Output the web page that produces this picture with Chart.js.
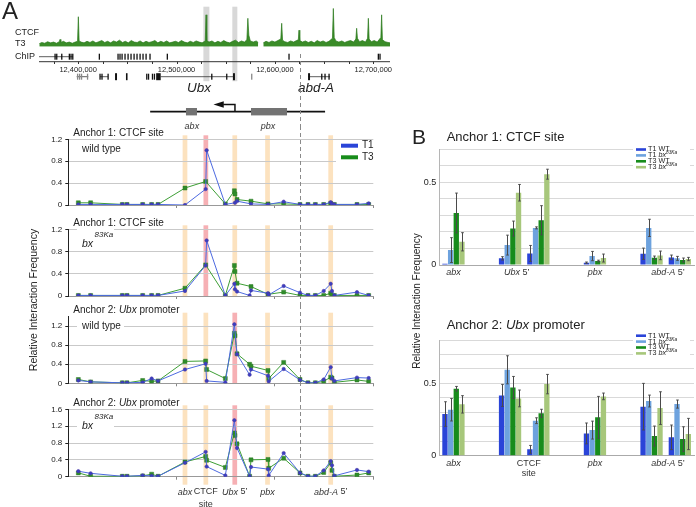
<!DOCTYPE html>
<html><head><meta charset="utf-8">
<script src="https://cdn.jsdelivr.net/npm/chart.js@4.4.0/dist/chart.umd.min.js"></script>
<style>
html,body{margin:0;padding:0;background:#fff;}
body{width:696px;height:507px;position:relative;overflow:hidden;font-family:"Liberation Sans",Arial,sans-serif;color:#222;}
canvas{position:absolute;}
.t{position:absolute;white-space:nowrap;line-height:1;}
.rot{position:absolute;width:220px;height:12px;line-height:12px;text-align:center;white-space:nowrap;transform:rotate(-90deg);}
</style></head><body>
<canvas id="g" width="400" height="134" style="left:0;top:0"></canvas>
<canvas id="c1" width="400" height="92" style="left:0;top:126px"></canvas>
<canvas id="c2" width="400" height="87" style="left:0;top:218px"></canvas>
<canvas id="c3" width="400" height="93" style="left:0;top:305px"></canvas>
<canvas id="c4" width="400" height="109" style="left:0;top:398px"></canvas>
<canvas id="b1" width="296" height="140" style="left:400px;top:140px"></canvas>
<canvas id="b2" width="296" height="152" style="left:400px;top:330px"></canvas>
<div class="t" style="left:2px;top:-1px;font-size:24px">A</div>
<div class="t" style="left:412px;top:125.5px;font-size:21px">B</div>
<div class="t" style="left:446.7px;top:130.3px;font-size:13px">Anchor 1: CTCF site</div>
<div class="t" style="left:446.7px;top:317.6px;font-size:13px">Anchor 2: <i>Ubx</i> promoter</div>
<div class="rot" style="left:-77px;top:294px;font-size:10.5px">Relative Interaction Frequency</div>
<div class="rot" style="left:307px;top:295px;font-size:10px">Relative Interaction Frequency</div>
<script>
// ---------------- DATA ----------------
// ChIP track (CTCF, T3), genomic position in kb, signal in arbitrary units (null = gap)
const chipPos = [12360.5,12363,12366,12369,12372,12375,12378,12380.8,12381.6,12382.4,12385,12388,12391,12394,12397,12399.4,12400.2,12401,12403,12406,12409,12412,12415,12418,12421,12424,12427,12430,12433,12436,12439,12442,12445,12448,12451,12454,12457,12460,12463,12466,12469,12472,12475,12478,12481,12484,12487,12490,12493,12496,12499,12502,12505,12508,12511,12514,12517,12520,12523,12526,12529.2,12530,12530.8,12533,12536,12539,12542,12545,12548,12551,12554,12557,12560,12563,12566,12569,12571.5,12572.5,12573.5,12575,12578,12581,12583,12585.5,12588.2,12591,12594,12597,12600,12603,12606,12606.9,12607.8,12610,12613,12616,12619,12622,12623.8,12624.5,12625.3,12628,12631,12634,12637,12640,12643,12646,12649,12652,12655,12658.5,12659.4,12660.3,12662,12665,12668,12671,12674,12677,12680,12682.3,12683.1,12683.9,12686,12689,12692,12694.2,12695,12695.8,12698,12701,12704,12707.7,12708.5,12709.3,12712,12715,12717];
const chipVal = [8,11,9,13,10,12,9,13,19,11,14,10,12,9,12,14,78,15,12,10,14,11,15,10,13,16,11,14,10,15,12,17,11,14,10,16,12,11,15,10,14,11,13,16,10,14,11,15,10,12,14,11,16,12,10,14,11,15,12,10,15,83,16,12,15,10,14,11,16,12,10,14,17,11,15,12,18,74,30,15,12,15,11,null,10,14,11,15,12,16,20,61,17,13,11,15,12,16,18,43,16,12,15,11,14,10,16,12,15,11,14,22,100,24,15,12,15,11,14,16,12,20,48,22,13,16,12,22,74,20,13,16,12,24,83,18,13,11,10];
const chipLabels = ['CTCF','T3','ChIP'];
// gene annotation (kb)
const gene1Lines = [[12360.2,12394.8]];
const gene1Exons = [12376.5,12378.2,12383.3,12391,12392.7,12394.5,12421.5,12440.5,12442.5,12444.6,12447.6,12450.7,12453.7,12456.8,12459.8,12462.9,12465.9,12469,12473,12490.6,12614.3,12705.1,12706.8];
const gene2Lines = [[12398.5,12410.3],[12422.2,12430.4],[12483.9,12558.4],[12633.7,12656]];
const gene2Exons = [12422.2,12424.2,12430.4,12469.7,12471.5,12475.5,12477.5,12535.8,12551,12647.6,12650.9,12655];
const gene2GrayExons = [12399.4,12401.4,12403.4,12409.5,12576.4];
const gene2Boxes = [[12437.5,12439.5],[12448.6,12450.2],[12479.3,12483.9],[12557.4,12559.4],[12633.7,12635.7]];
const highlightKb = [[12527.3,12533.4],[12556.7,12561.8]];
const genomeTickKb = [12375,12400,12425,12450,12475,12500,12525,12550,12575,12600,12625,12650,12675,12700];
const genomeLabelKb = [12400,12500,12600,12700];
const geneNames = [{kb:12522.9,t:'Ubx'},{kb:12641.8,t:'abd-A'}];
const schemeLine = [12473.2,12651];
const schemeBoxes = [{a:12509.6,b:12520.8,t:'abx',lab:12515.6},{a:12575.7,b:12612.3,t:'pbx',lab:12593}];
const tssKb = 12559.4, arrowTipKb = 12537.6, arrowBaseKb = 12547.5;
const dashKb = 12625.5;

// 4C interaction profiles: fragment positions (kb) and relative interaction frequencies
const siteKb = [12400.2,12412.7,12444.9,12449.7,12465.6,12474.7,12481.2,12508.6,12529.6,12530.6,12549.6,12558.8,12559.4,12561.5,12574.3,12575.7,12593.0,12593.7,12608.9,12625.5,12633.6,12641.1,12649.6,12656.7,12658.0,12660.4,12683.4,12695.3];
const a1wtT1 = [0.01,0.01,0.01,0.01,0.01,0.01,0.01,0.0,0.29,1.0,0.01,null,0.04,0.07,null,0.02,0.01,null,0.06,0.01,0.01,0.01,0.01,0.05,0.02,0.01,0.01,0.03];
const a1wtT3 = [0.04,0.04,0.01,0.01,0.01,0.01,0.01,0.31,0.43,null,0.02,0.26,0.2,0.1,null,0.07,0.02,null,0.02,0.01,0.01,0.01,0.01,0.03,null,0.01,0.01,0.01];
const a1bxT1 = [0.01,0.01,0.01,0.01,0.01,0.01,0.01,0.09,0.55,1.0,0.01,0.22,0.12,0.08,0.01,0.1,0.05,0.02,0.18,0.06,0.01,0.01,0.09,0.22,0.09,0.01,0.07,0.01];
const a1bxT3 = [0.01,0.01,0.01,0.01,0.01,0.01,0.01,0.14,0.56,null,0.01,0.55,0.44,0.23,null,0.17,0.03,null,0.07,0.01,0.01,0.01,0.01,0.05,0.02,0.01,0.01,0.01];
const a2wtT1 = [0.06,0.03,0.01,0.01,0.02,0.1,0.05,0.29,0.41,0.05,0.02,1.24,null,0.61,0.18,0.29,0.16,0.04,0.3,0.07,0.01,0.01,0.08,0.34,0.1,0.05,0.12,0.11];
const a2wtT3 = [0.08,0.03,0.01,0.01,0.06,0.04,0.05,0.46,0.47,0.29,0.1,1.05,1.0,0.62,0.4,0.36,0.27,0.1,0.44,0.08,0.01,0.01,0.04,0.13,0.11,0.02,0.07,0.04];
const a2bxT1 = [0.13,0.08,0.01,0.01,0.03,0.02,0.01,0.33,0.59,0.24,0.03,1.34,null,0.68,0.01,0.23,0.18,0.03,0.56,0.09,0.01,0.01,0.15,0.37,0.27,0.02,0.16,0.12];
const a2bxT3 = [0.09,0.01,0.01,0.01,0.02,0.06,0.01,0.35,0.48,0.39,0.22,1.04,0.98,0.78,0.01,0.4,0.41,0.2,0.44,0.09,0.01,0.01,0.1,0.33,0.15,0.01,0.04,0.09];
const bandKb = [12508.6,12529.8,12559.2,12592.5,12656.7];
const bandNames = [[{t:'abx',i:1}],[{t:'CTCF'}],[{t:'Ubx',i:1},{t:' 5\u2019'}],[{t:'pbx',i:1}],[{t:'abd-A',i:1},{t:' 5\u2019'}]];
const lineAxisTicks = [12500,12600,12700];

// Panel B: grouped bars (slots; '' = spacer)
const bSlots = ['abx','','Ubx5-1','Ubx5-2','','pbx','','abdA5-1','abdA5-2'];
const b1T1wt = [0.008,null,0.04,0.07,null,0.014,null,0.068,0.046];
const b1T1wtErr = [0,null,0.01,0.048,null,0.004,null,0.034,0.014];
const b1T1bx = [0.09,null,0.12,0.224,null,0.054,null,0.224,0.04];
const b1T1bxErr = [0.075,null,0.06,0.006,null,0.028,null,0.052,0.012];
const b1T3wt = [0.314,null,0.22,0.27,null,0.024,null,0.044,0.03];
const b1T3wtErr = [0.12,null,0.045,0.088,null,0.005,null,0.01,0.012];
const b1T3bx = [0.14,null,0.436,0.548,null,0.042,null,0.058,0.036];
const b1T3bxErr = [0.055,null,0.05,0.03,null,0.024,null,0.026,0.01];
const b2T1wt = [0.288,null,0.417,0.044,null,0.154,null,0.339,0.127];
const b2T1wtErr = [0.085,null,0.076,0.027,null,0.072,null,0.161,0.085];
const b2T1bx = [0.318,null,0.594,0.242,null,0.177,null,0.378,0.357];
const b2T1bxErr = [0.078,null,0.097,0.02,null,0.062,null,0.041,0.028];
const b2T3wt = [0.463,null,0.472,0.293,null,0.265,null,0.136,0.115];
const b2T3wtErr = [0.016,null,0.076,0.028,null,0.145,null,0.069,0.085];
const b2T3bx = [0.355,null,0.396,0.495,null,0.41,null,0.329,0.15];
const b2T3bxErr = [0.06,null,0.058,0.067,null,0.023,null,0.113,0.108];
const b1Labels = [{pos:0,runs:[{t:'abx',i:1}]},{pos:2.24,runs:[{t:'Ubx',i:1},{t:' 5\u2019'}]},{pos:5,runs:[{t:'pbx',i:1}]},{pos:7.58,runs:[{t:'abd-A',i:1},{t:' 5\u2019'}]}];
const b2Labels = [{pos:0,runs:[{t:'abx',i:1}]},{pos:2.66,runs:[{t:'CTCF'}],runs2:[{t:'site'}]},{pos:5,runs:[{t:'pbx',i:1}]},{pos:7.58,runs:[{t:'abd-A',i:1},{t:' 5\u2019'}]}];
const bSeriesNames = ['T1 WT','T1 bx','T3 WT','T3 bx'];

// ---------------- DRAWING ----------------
const FF = '"Liberation Sans", Arial, Helvetica, sans-serif';
const N = s => s + 'px ' + FF;
const IT = s => 'italic ' + s + 'px ' + FF;
const C = {t1:'#2a44d8', t1bx:'#6da2de', t3:'#178c1b', t3bx:'#a7c77b', orange:'#fce2bf', pink:'#f6b0b4'};

function runsWidth(ctx, runs, size){ let w=0; for(const r of runs){ ctx.font = r.i?IT(r.s||size):N(r.s||size); w += ctx.measureText(r.t).width + (r.dx||0);} return w; }
function drawRuns(ctx, x, y, runs, size, align, color){
  const w = runsWidth(ctx, runs, size);
  let cx = align==='center' ? x-w/2 : (align==='right' ? x-w : x);
  ctx.textAlign='left'; ctx.textBaseline='middle';
  for(const r of runs){ ctx.font = r.i?IT(r.s||size):N(r.s||size); ctx.fillStyle = r.c||color||'#222'; ctx.fillText(r.t, cx, y+(r.dy||0)); cx += ctx.measureText(r.t).width + (r.dx||0); }
}

Chart.defaults.font.family = FF;

// Genome track
const genomePlugin = {
  id:'genome',
  beforeDatasetsDraw(chart){
    const {ctx, scales:{x}} = chart;
    ctx.save(); ctx.fillStyle='#d8d8d8';
    for(const [a,b] of highlightKb){ const xa=x.getPixelForValue(a), xb=x.getPixelForValue(b); ctx.fillRect(xa,6.7,xb-xa,74.5); }
    ctx.restore();
  },
  afterDatasetsDraw(chart){
    const {ctx, scales:{x}} = chart; const P = v => x.getPixelForValue(v);
    ctx.save();
    chipLabels.forEach((t,i)=>{ ctx.font=N(9); ctx.fillStyle='#222'; ctx.textAlign='left'; ctx.textBaseline='middle'; ctx.fillText(t, 15, [32.3,44,56.7][i]); });
    ctx.strokeStyle='#333'; ctx.lineWidth=0.8;
    for(const [a,b] of gene1Lines){ ctx.beginPath(); ctx.moveTo(P(a),56.7); ctx.lineTo(P(b),56.7); ctx.stroke(); }
    ctx.fillStyle='#111';
    for(const e of gene1Exons){ ctx.fillRect(P(e)-0.6,53.7,1.3,6); }
    ctx.strokeStyle='#333'; ctx.lineWidth=1;
    ctx.beginPath(); ctx.moveTo(chart.chartArea.left,61.7); ctx.lineTo(chart.chartArea.right,61.7); ctx.stroke();
    for(const t of genomeTickKb){ ctx.beginPath(); ctx.moveTo(Math.round(P(t))+0.5,61.7); ctx.lineTo(Math.round(P(t))+0.5,64); ctx.stroke(); }
    ctx.font=N(7.5); ctx.fillStyle='#222'; ctx.textAlign='center'; ctx.textBaseline='middle';
    for(const t of genomeLabelKb){ ctx.fillText((t*1000).toLocaleString('en-US'), P(t), 70); }
    ctx.strokeStyle='#333'; ctx.lineWidth=0.8;
    for(const [a,b] of gene2Lines){ ctx.beginPath(); ctx.moveTo(P(a),76.7); ctx.lineTo(P(b),76.7); ctx.stroke(); }
    ctx.fillStyle='#111';
    for(const e of gene2Exons){ ctx.fillRect(P(e)-0.6,73.7,1.3,6); }
    for(const [a,b] of gene2Boxes){ ctx.fillRect(P(a),73.2,Math.max(1.5,P(b)-P(a)),7); }
    ctx.fillStyle='#888';
    for(const e of gene2GrayExons){ ctx.fillRect(P(e)-0.6,73.7,1.3,6); }
    ctx.fillStyle='#222'; ctx.font=IT(13.5); ctx.textAlign='center';
    for(const g of geneNames){ ctx.fillText(g.t, P(g.kb), 88.3); }
    ctx.strokeStyle='#111'; ctx.lineWidth=1.8;
    ctx.beginPath(); ctx.moveTo(P(schemeLine[0]),111.7); ctx.lineTo(P(schemeLine[1]),111.7); ctx.stroke();
    for(const b of schemeBoxes){ ctx.fillStyle='#737373'; ctx.fillRect(P(b.a),108,P(b.b)-P(b.a),7.4); ctx.fillStyle='#333'; ctx.font=IT(9); ctx.fillText(b.t, P(b.lab), 126); }
    ctx.lineWidth=1.5; ctx.strokeStyle='#111';
    ctx.beginPath(); ctx.moveTo(P(tssKb),111.7); ctx.lineTo(P(tssKb),104.5); ctx.lineTo(P(arrowBaseKb),104.5); ctx.stroke();
    ctx.fillStyle='#111'; ctx.beginPath(); ctx.moveTo(P(arrowTipKb),104.5); ctx.lineTo(P(arrowBaseKb)+0.5,101.3); ctx.lineTo(P(arrowBaseKb)+0.5,107.7); ctx.closePath(); ctx.fill();
    ctx.strokeStyle='#8a8a8a'; ctx.lineWidth=1; ctx.setLineDash([4,3]);
    ctx.beginPath(); ctx.moveTo(Math.round(P(dashKb))+0.5,54); ctx.lineTo(Math.round(P(dashKb))+0.5,126); ctx.stroke();
    ctx.restore();
  }
};
new Chart(document.getElementById('g'), {
  type:'line',
  data:{datasets:[{data:chipPos.map((x,i)=>({x, y:chipVal[i]})), borderColor:'#2b7a1c', backgroundColor:'#3a8c28', borderWidth:0.7, fill:'origin', pointRadius:0, tension:0, spanGaps:false}]},
  options:{responsive:false, animation:false, devicePixelRatio:1,
    layout:{padding:{left:39, right:10, top:8.3, bottom:134-46.7}},
    scales:{x:{type:'linear', display:false, min:12360.2, max:12717}, y:{display:false, min:0, max:100}},
    plugins:{legend:{display:false}, tooltip:{enabled:false}}},
  plugins:[genomePlugin]
});

// 4C line charts
function yLab(v){ const k=Math.round(v*10)/10; const q=k/0.4; return Math.abs(q-Math.round(q))<1e-6 ? (k===0?'0':k.toFixed(1)) : ''; }
function linePlugin(o){
  return {
    id:'lp'+o.id,
    beforeDraw(chart){
      const {ctx, chartArea:a, scales:{x}} = chart;
      ctx.save();
      bandKb.forEach((kb,i)=>{ ctx.fillStyle = (i===o.pink)?C.pink:C.orange; const xa=x.getPixelForValue(kb-2.4), xb=x.getPixelForValue(kb+2.4); ctx.fillRect(xa, a.top-4, xb-xa, a.bottom-a.top+4+(o.last?8:0)); });
      ctx.restore();
    },
    beforeDatasetsDraw(chart){
      const {ctx, chartArea:a, scales:{x}} = chart;
      ctx.save();
      ctx.fillStyle='#fff';
      if(o.sub==='wt'){ ctx.fillRect(77, o.subY-6.5, 47, 13); }
      else { ctx.fillRect(77, o.subY-15, 37, 22); }
      if(o.legend){ ctx.fillRect(336, 14.5, 40, 23.5); }
      ctx.strokeStyle='#8a8a8a'; ctx.lineWidth=1; ctx.setLineDash([4,3]);
      const dx=Math.round(x.getPixelForValue(dashKb))+0.5;
      ctx.beginPath(); ctx.moveTo(dx,0); ctx.lineTo(dx, o.last? a.bottom : chart.height); ctx.stroke();
      ctx.restore();
    },
    afterDraw(chart){
      const {ctx, chartArea:a, scales:{x}} = chart;
      ctx.save();
      drawRuns(ctx, 73.3, o.titleY, o.title, 10, 'left');
      if(o.sub==='wt'){ drawRuns(ctx, 82, o.subY, [{t:'wild type'}], 10, 'left'); }
      else { drawRuns(ctx, 82, o.subY, [{t:'bx',i:1}], 10.5, 'left'); drawRuns(ctx, 94.5, o.subY-9, [{t:'83Ka',i:1}], 8, 'left'); }
      if(o.legend){
        [['T1',C.t1,19.7],['T3',C.t3,31.3]].forEach(([t,c,y])=>{ ctx.fillStyle=c; ctx.fillRect(341,y-2,17,4); drawRuns(ctx,362,y,[{t}],10,'left'); });
      }
      if(o.last){
        bandKb.forEach((kb,i)=>{ drawRuns(ctx, x.getPixelForValue(kb), 94, bandNames[i], 9, 'center', '#333'); });
        drawRuns(ctx, x.getPixelForValue(bandKb[1]), 106.5, [{t:'site'}], 9, 'center', '#333');
      }
      ctx.restore();
    }
  };
}
function makeLine(o){
  const pts = arr => siteKb.map((x,i)=>({x, y:arr[i]})).filter(p=>p.y!==null);
  new Chart(document.getElementById(o.id), {
    type:'line',
    data:{datasets:[
      {label:'T1', data:pts(o.t1), borderColor:'#4d6ae0', borderWidth:1, pointStyle:'circle', pointRadius:1.7, pointBackgroundColor:'#3a3fc2', pointBorderColor:'#4b39a4', pointBorderWidth:0.6, tension:0, fill:false},
      {label:'T3', data:pts(o.t3), borderColor:'#3d9e35', borderWidth:1, pointStyle:'rect', pointRadius:2.8, pointBackgroundColor:'#2f8c2a', pointBorderColor:'#2d7a25', pointBorderWidth:0.5, tension:0, fill:false}
    ]},
    options:{responsive:false, animation:false, devicePixelRatio:1,
      layout:{padding:{left:0, right:26.7, top:o.top, bottom:0}},
      scales:{
        x:{type:'linear', min:12390, max:12700, afterBuildTicks: s => { s.ticks = lineAxisTicks.map(v=>({value:v})); },
           ticks:{display:false}, grid:{drawOnChartArea:false, tickLength:3, tickColor:'#888'}, border:{color:'#999'},
           afterFit: s => { s.height = o.H - o.bottom; }},
        y:{min:0, max:o.ymax, ticks:{stepSize:0.2, font:{size:8}, color:'#222', padding:3, callback:v=>yLab(v)},
           grid:{color:'#c9c9c9', tickLength:3, tickColor:'#222'}, border:{color:'#222'},
           afterFit: s => { s.width = 68.3; }}
      },
      plugins:{legend:{display:false}, tooltip:{enabled:false}}},
    plugins:[linePlugin(o)]
  });
}
makeLine({id:'c1', H:92, top:13.3, bottom:79, ymax:1.2, t1:a1wtT1, t3:a1wtT3, pink:1, title:[{t:'Anchor 1: CTCF site'}], titleY:7, sub:'wt', subY:23.3, legend:true});
makeLine({id:'c2', H:87, top:11.3, bottom:78, ymax:1.2, t1:a1bxT1, t3:a1bxT3, pink:1, title:[{t:'Anchor 1: CTCF site'}], titleY:5, sub:'bx', subY:26});
makeLine({id:'c3', H:93, top:11.7, bottom:78.3, ymax:1.4, t1:a2wtT1, t3:a2wtT3, pink:2, title:[{t:'Anchor 2: '},{t:'Ubx',i:1},{t:' promoter'}], titleY:5.7, sub:'wt', subY:21});
makeLine({id:'c4', H:109, top:11.3, bottom:78.7, ymax:1.6, t1:a2bxT1, t3:a2bxT3, pink:2, title:[{t:'Anchor 2: '},{t:'Ubx',i:1},{t:' promoter'}], titleY:5.3, sub:'bx', subY:28, last:true});

// Panel B bar charts
function barPlugin(o){
  return {
    id:'bp'+o.id,
    afterDatasetsDraw(chart){
      const {ctx, scales:{y}} = chart;
      ctx.save(); ctx.strokeStyle='#4a4a4a'; ctx.lineWidth=1;
      chart.data.datasets.forEach((ds,di)=>{
        const meta = chart.getDatasetMeta(di); const err = o.errs[di];
        meta.data.forEach((el,j)=>{
          const v = ds.data[j]; if(v===null||err[j]===null||!err[j]) return;
          const xx = Math.round(el.x)+0.5; const y1=y.getPixelForValue(v+err[j]), y2=y.getPixelForValue(Math.max(0,v-err[j]));
          ctx.beginPath(); ctx.moveTo(xx,y1); ctx.lineTo(xx,y2); ctx.moveTo(xx-1.3,y1); ctx.lineTo(xx+1.3,y1); ctx.moveTo(xx-1.3,y2); ctx.lineTo(xx+1.3,y2); ctx.stroke();
        });
      });
      ctx.restore();
    },
    afterDraw(chart){
      const {ctx, scales:{x}} = chart;
      ctx.save();
      ctx.fillStyle='#fff'; ctx.fillRect(233, o.legY[0]-3.5, 57, o.legY[3]-o.legY[0]+7);
      const cols=[C.t1,C.t1bx,C.t3,C.t3bx];
      bSeriesNames.forEach((n,i)=>{
        const yy=o.legY[i]; ctx.fillStyle=cols[i]; ctx.fillRect(236, yy-1.3, 10, 2.6);
        const parts = n.split(' ');
        const runs = parts[1]==='bx' ? [{t:parts[0]+' '},{t:'bx',i:1},{t:'83Ka',i:1,s:4.8,dy:-2.3}] : [{t:n}];
        drawRuns(ctx, 248, yy, runs, 7.2, 'left');
      });
      for(const l of o.labels){
        drawRuns(ctx, x.getPixelForValue(l.pos), o.labY, l.runs, 9, 'center', '#333');
        if(l.runs2) drawRuns(ctx, x.getPixelForValue(l.pos), o.labY+10.7, l.runs2, 9, 'center', '#333');
      }
      ctx.restore();
    }
  };
}
function makeBar(o){
  new Chart(document.getElementById(o.id), {
    type:'bar',
    data:{labels:bSlots, datasets:[
      {data:o.d[0], backgroundColor:C.t1}, {data:o.d[1], backgroundColor:C.t1bx}, {data:o.d[2], backgroundColor:C.t3}, {data:o.d[3], backgroundColor:C.t3bx}]},
    options:{responsive:false, animation:false, devicePixelRatio:1,
      datasets:{bar:{categoryPercentage:0.8, barPercentage:0.94}},
      layout:{padding:{left:0, right:2, top:o.top, bottom:0}},
      scales:{
        x:{ticks:{display:false}, grid:{display:false}, border:{color:'#aaa'}, afterFit: s => { s.height = o.H - o.bottom; }},
        y:{min:0, max:o.ymax, ticks:{stepSize:0.1, padding:3, font:{size:9}, color:'#222', callback:v=>{ const k=Math.round(v*10)/10; return k===0?'0':(k===0.5?'0.5':''); }},
           grid:{color:'#d9d9d9', drawTicks:false}, border:{color:'#b5b5b5'}, afterFit: s => { s.width = 39.3; }}
      },
      plugins:{legend:{display:false}, tooltip:{enabled:false}}},
    plugins:[barPlugin(o)]
  });
}
makeBar({id:'b1', H:140, top:9, bottom:125, ymax:0.7, d:[b1T1wt,b1T1bx,b1T3wt,b1T3bx], errs:[b1T1wtErr,b1T1bxErr,b1T3wtErr,b1T3bxErr], legY:[9.5,15.4,21.3,27.2], labels:b1Labels, labY:132.7});
makeBar({id:'b2', H:152, top:10, bottom:125.7, ymax:0.8, d:[b2T1wt,b2T1bx,b2T3wt,b2T3bx], errs:[b2T1wtErr,b2T1bxErr,b2T3wtErr,b2T3bxErr], legY:[5.7,11.6,17.5,23.4], labels:b2Labels, labY:133.3});
</script>
</body></html>
